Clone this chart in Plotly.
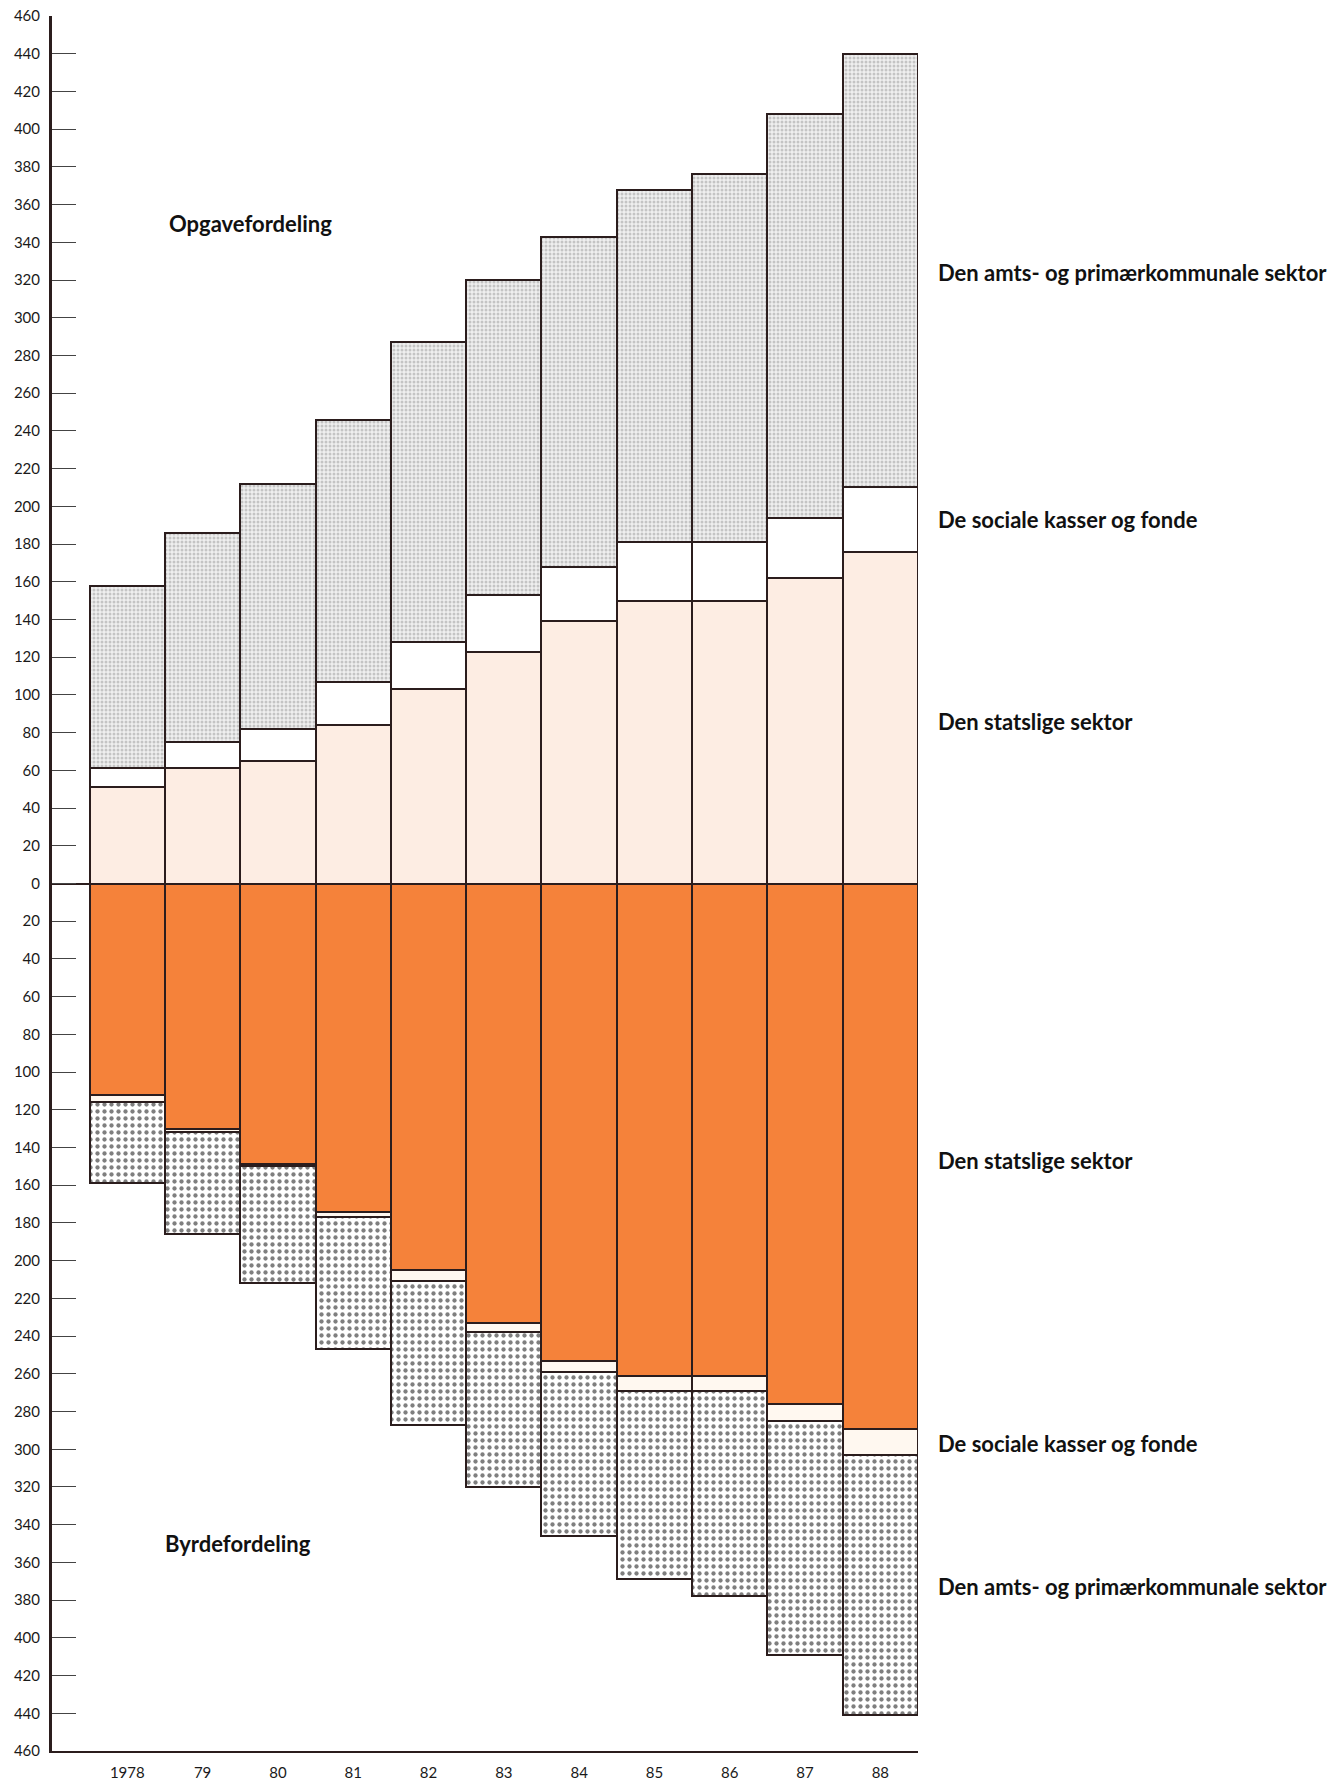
import plotly.graph_objects as go

# Aar og etiketter
aar = ["1978", "79", "80", "81", "82", "83", "84", "85", "86", "87", "88"]

# Opgavefordeling (ovre halvdel), mia. kr.
opg_stat = [51, 61, 65, 84, 103, 123, 139, 150, 150, 162, 176]
opg_soc = [10, 14, 17, 23, 25, 30, 29, 31, 31, 32, 34]
opg_amt = [97, 111, 130, 139, 159, 167, 175, 187, 195, 214, 230]

# Byrdefordeling (nedre halvdel)
byr_stat = [112, 130, 149, 174, 205, 233, 253, 261, 261, 276, 289]
byr_soc = [4, 2, 1, 3, 6, 5, 6, 8, 8, 9, 14]
byr_amt = [43, 54, 62, 70, 76, 82, 87, 100, 109, 124, 138]

y_ticks = list(range(-460, 461, 20))

LINE = "#2b1d1d"
x = list(range(len(aar)))

fig = go.Figure()

def add(vals, fill, pattern=None, sign=1):
    marker = dict(color=fill, line=dict(color=LINE, width=2))
    if pattern:
        marker["pattern"] = pattern
    fig.add_trace(go.Bar(x=x, y=[sign * v for v in vals], marker=marker,
                         showlegend=False, hoverinfo="skip"))

add(opg_stat, "#fdede3")
add(opg_soc, "#ffffff")
add(opg_amt, "#e6e6e6", dict(shape=".", size=4, solidity=0.45,
                             fgcolor="#9a9a9a", bgcolor="#efefef"))
add(byr_stat, "#f5823a", sign=-1)
add(byr_soc, "#fff8f0", sign=-1)
add(byr_amt, "#ffffff", dict(shape=".", size=7, solidity=0.3,
                             fgcolor="#000000", bgcolor="#ffffff"), sign=-1)

lab_font = dict(family="Lato", size=22, color="#111111")
x_lab = 1.021
labels = [
    ("Den amts- og primærkommunale sektor", 324),
    ("De sociale kasser og fonde", 193),
    ("Den statslige sektor", 86),
    ("Den statslige sektor", -147),
    ("De sociale kasser og fonde", -297),
    ("Den amts- og primærkommunale sektor", -373),
]
for txt, yv in labels:
    fig.add_annotation(x=x_lab, xref="paper", y=yv, yref="y", text="<b>" + txt + "</b>",
                       showarrow=False, xanchor="left", yanchor="middle", font=lab_font)

fig.add_annotation(x=0.53, y=350, text="<b>Opgavefordeling</b>", showarrow=False,
                   xanchor="left", yanchor="middle", font=lab_font)
fig.add_annotation(x=0.48, y=-350, text="<b>Byrdefordeling</b>", showarrow=False,
                   xanchor="left", yanchor="middle", font=lab_font)

fig.update_layout(
    width=1343, height=1784,
    margin=dict(l=52, r=425, t=16, b=33),
    barmode="relative", bargap=0,
    plot_bgcolor="white", paper_bgcolor="white",
    font=dict(family="Lato", size=15, color="#1a1a1a"),
)
fig.update_xaxes(range=[-1, 10.5], tickvals=x, ticktext=aar, showline=True,
                 linecolor=LINE, linewidth=2, showgrid=False, zeroline=False,
                 ticks="", ticklabelstandoff=7, automargin=False)
fig.update_yaxes(range=[-460, 460], tickvals=y_ticks,
                 ticktext=[str(abs(v)) for v in y_ticks], showline=True,
                 linecolor=LINE, linewidth=3, showgrid=False, zeroline=True,
                 zerolinecolor=LINE, zerolinewidth=2, ticks="inside", ticklen=24,
                 tickwidth=1, tickcolor="#444444", ticklabelstandoff=6,
                 automargin=False)

fig.write_html("out.html", config={"displayModeBar": False},
               post_script="document.body.style.margin='0';")
